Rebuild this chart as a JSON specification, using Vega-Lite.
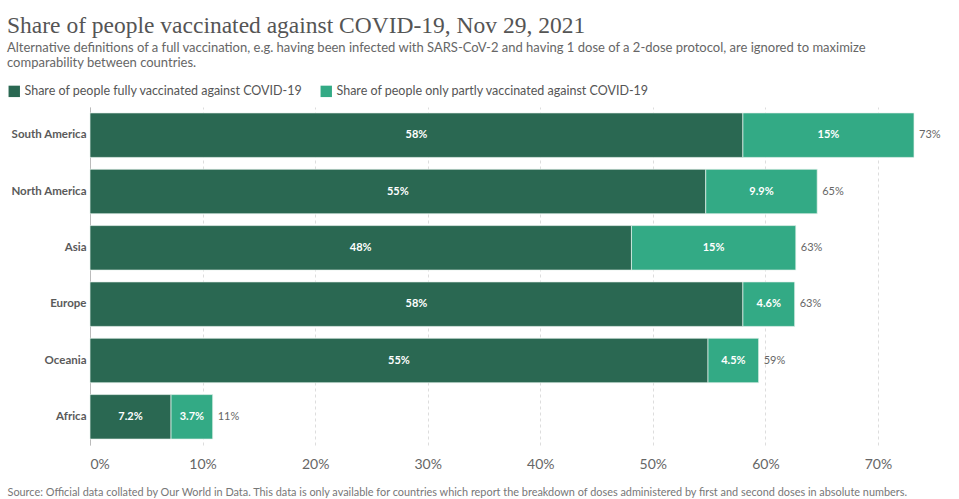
{
  "$schema": "https://vega.github.io/schema/vega-lite/v6.json",
  "width": 824,
  "height": 338,
  "autosize": "none",
  "padding": {"left": 90, "top": 107, "right": 45, "bottom": 54},
  "background": "white",
  "title": {
    "text": "Share of people vaccinated against COVID-19, Nov 29, 2021",
    "subtitle": ["Alternative definitions of a full vaccination, e.g. having been infected with SARS-CoV-2 and having 1 dose of a 2-dose protocol, are ignored to maximize", "comparability between countries."],
    "anchor": "start",
    "frame": "bounds",
    "font": "Liberation Serif",
    "fontSize": 23.5,
    "fontWeight": "normal",
    "color": "#555555",
    "subtitleFont": "Lato",
    "subtitleFontSize": 13,
    "subtitleColor": "#666666",
    "subtitlePadding": 4,
    "subtitleLineHeight": 15.5,
    "offset": 15
  },
  "config": {
    "view": {"stroke": null},
    "font": "Lato"
  },
  "data": {
    "values": [
      {"region": "South America", "series": "Share of people fully vaccinated against COVID-19", "ord": 1, "value": 58.0},
      {"region": "South America", "series": "Share of people only partly vaccinated against COVID-19", "ord": 2, "value": 15.2},
      {"region": "North America", "series": "Share of people fully vaccinated against COVID-19", "ord": 1, "value": 54.7},
      {"region": "North America", "series": "Share of people only partly vaccinated against COVID-19", "ord": 2, "value": 9.9},
      {"region": "Asia", "series": "Share of people fully vaccinated against COVID-19", "ord": 1, "value": 48.1},
      {"region": "Asia", "series": "Share of people only partly vaccinated against COVID-19", "ord": 2, "value": 14.6},
      {"region": "Europe", "series": "Share of people fully vaccinated against COVID-19", "ord": 1, "value": 58.0},
      {"region": "Europe", "series": "Share of people only partly vaccinated against COVID-19", "ord": 2, "value": 4.6},
      {"region": "Oceania", "series": "Share of people fully vaccinated against COVID-19", "ord": 1, "value": 54.9},
      {"region": "Oceania", "series": "Share of people only partly vaccinated against COVID-19", "ord": 2, "value": 4.5},
      {"region": "Africa", "series": "Share of people fully vaccinated against COVID-19", "ord": 1, "value": 7.2},
      {"region": "Africa", "series": "Share of people only partly vaccinated against COVID-19", "ord": 2, "value": 3.7}
    ]
  },
  "encoding": {
    "y": {
      "field": "region",
      "type": "nominal",
      "sort": ["South America", "North America", "Asia", "Europe", "Oceania", "Africa"],
      "scale": {"paddingInner": 0.21, "paddingOuter": 0.105},
      "axis": {
        "title": null,
        "ticks": false,
        "domain": true,
        "domainColor": "#bbbbbb",
        "labelFont": "Lato",
        "labelFontSize": 11.5,
        "labelFontWeight": "bold",
        "labelColor": "#5a5a5a",
        "labelPadding": 4
      }
    }
  },
  "layer": [
    {
      "mark": {"type": "bar", "stroke": "#e8f3ee", "strokeWidth": 0.7},
      "encoding": {
        "x": {
          "field": "value",
          "type": "quantitative",
          "stack": "zero",
          "scale": {"domain": [0, 73.2], "nice": false},
          "axis": {
            "values": [0, 10, 20, 30, 40, 50, 60, 70],
            "labelExpr": "datum.value + '%'",
            "grid": true,
            "gridDash": [3, 3],
            "gridColor": "#dddddd",
            "domain": false,
            "ticks": false,
            "labelFont": "Lato",
            "labelFontSize": 14,
            "labelColor": "#666666",
            "labelPadding": 12,
            "title": "Source: Official data collated by Our World in Data. This data is only available for countries which report the breakdown of doses administered by first and second doses in absolute numbers.",
            "titleFont": "Lato",
            "titleFontSize": 10.9,
            "titleFontWeight": "normal",
            "titleColor": "#777777",
            "titleAnchor": "start",
            "titleAlign": "left",
            "titleX": -83,
            "titleY": 50,
            "titleBaseline": "alphabetic"
          }
        },
        "color": {
          "field": "series",
          "type": "nominal",
          "scale": {
            "domain": ["Share of people fully vaccinated against COVID-19", "Share of people only partly vaccinated against COVID-19"],
            "range": ["#2a6852", "#33aa85"]
          },
          "legend": {
            "title": null,
            "orient": "none",
            "direction": "horizontal",
            "legendX": -82,
            "legendY": -22,
            "symbolType": "square",
            "symbolSize": 130,
            "symbolStrokeWidth": 0,
            "symbolOpacity": 1,
            "labelFont": "Lato",
            "labelFontSize": 12.5,
            "labelColor": "#555555",
            "labelOffset": 4,
            "columnPadding": 17,
            "labelLimit": 400
          }
        },
        "order": {"field": "ord", "type": "quantitative"}
      }
    },
    {
      "transform": [
        {"calculate": "format(datum.value, '.2r') + '%'", "as": "lbl"}
      ],
      "mark": {"type": "text", "color": "white", "font": "Lato", "fontSize": 11, "fontWeight": "bold"},
      "encoding": {
        "x": {"field": "value", "type": "quantitative", "stack": "zero", "bandPosition": 0.5},
        "text": {"field": "lbl"},
        "detail": {"field": "series"},
        "order": {"field": "ord", "type": "quantitative"}
      }
    },
    {
      "transform": [
        {"aggregate": [{"op": "sum", "field": "value", "as": "total"}], "groupby": ["region"]},
        {"calculate": "format(datum.total, '.2r') + '%'", "as": "lbl"}
      ],
      "mark": {"type": "text", "align": "left", "dx": 5, "color": "#666666", "font": "Lato", "fontSize": 11},
      "encoding": {
        "x": {"field": "total", "type": "quantitative"},
        "text": {"field": "lbl"}
      }
    }
  ]
}
